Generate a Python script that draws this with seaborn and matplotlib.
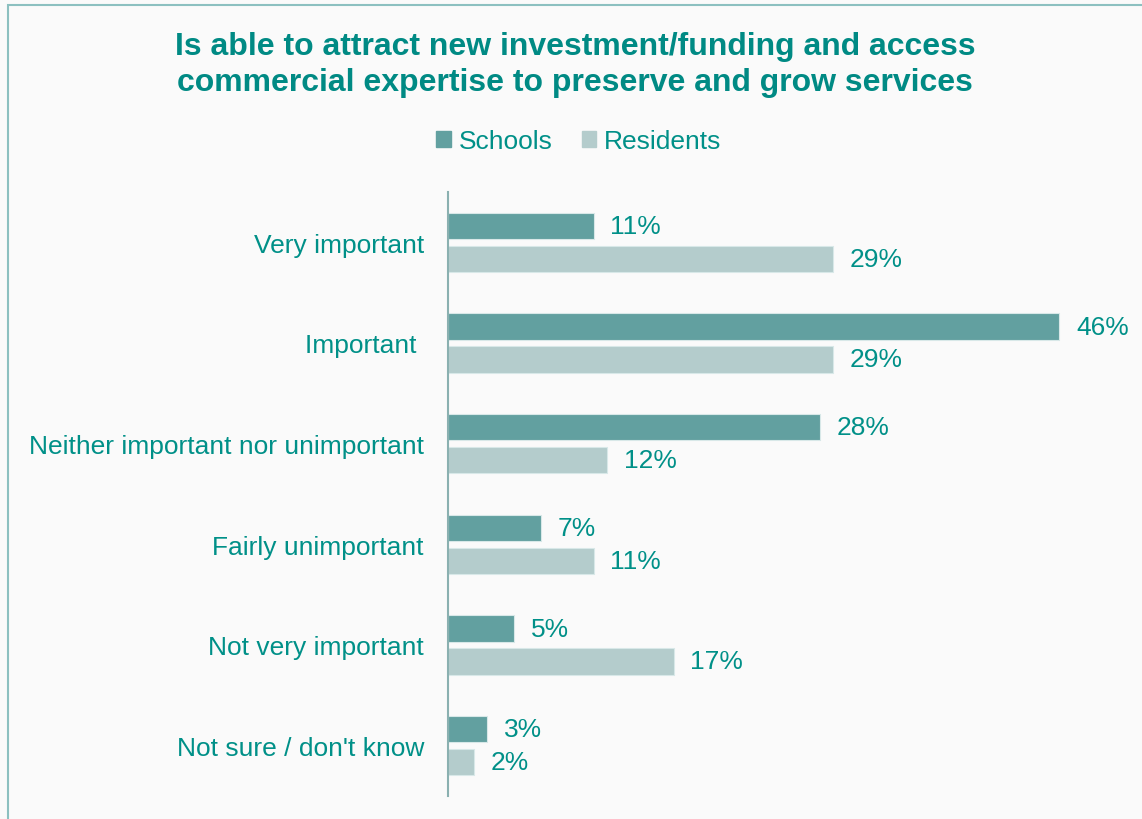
import matplotlib
matplotlib.use("Agg")
import matplotlib.pyplot as plt
import seaborn as sns
import pandas as pd
from matplotlib.patches import Rectangle

categories = ["Very important", "Important ", "Neither important nor unimportant",
              "Fairly unimportant", "Not very important", "Not sure / don't know"]
schools = [11, 46, 28, 7, 5, 3]
residents = [29, 29, 12, 11, 17, 2]
series = ["Schools", "Residents"]
title = "Is able to attract new investment/funding and access\ncommercial expertise to preserve and grow services"

teal_dark = "#62A0A0"
teal_light = "#B4CCCC"
text_col = "#009088"

df = pd.DataFrame({
    "category": categories * 2,
    "value": schools + residents,
    "series": [series[0]] * len(categories) + [series[1]] * len(categories),
})

sns.set_theme(style="white")
plt.rcParams['font.family'] = ['Liberation Sans', 'DejaVu Sans']

W, H = 1142, 820
fig = plt.figure(figsize=(W / 100, H / 100), dpi=100, facecolor="#FAFAFA")
ax = fig.add_axes([447.5 / W, 1 - 797 / H, (W - 447.5) / W, (797 - 193) / H])
ax.set_facecolor("#FAFAFA")

sns.barplot(data=df, y="category", x="value", hue="series", orient="h",
            palette=[teal_dark, teal_light], saturation=1, width=0.655, gap=0.21,
            legend=False, ax=ax, order=categories, hue_order=series,
            edgecolor="#D8E8E8", linewidth=0.8)

for cont in ax.containers:
    ax.bar_label(cont, labels=[f"{int(v)}%" for v in cont.datavalues],
                 padding=12, fontsize=19, color=text_col)

ax.set_xlim(0, (W - 447.5) / 13.3)
ax.set_ylim(5.5, -0.5)
ax.set_xlabel("")
ax.set_ylabel("")
ax.set_xticks([])
ax.tick_params(axis="y", length=0, pad=17, labelsize=19, labelcolor=text_col)
for s in ["top", "right", "bottom"]:
    ax.spines[s].set_visible(False)
ax.spines["left"].set_color("#8AB0B0")
ax.spines["left"].set_linewidth(1.5)

fig.text(575 / W, 1 - 65 / H, title, ha="center", va="center", fontsize=23,
         fontweight="bold", color="#008A84", linespacing=1.22)

handles = [Rectangle((0, 0), 1, 1, color=teal_dark), Rectangle((0, 0), 1, 1, color=teal_light)]
fig.legend(handles, series, loc="center", bbox_to_anchor=(579 / W, 1 - 142 / H), ncol=2,
           frameon=False, fontsize=19, handlelength=0.55, handleheight=0.55,
           handletextpad=0.3, columnspacing=1.1, labelcolor=text_col)

# outer frame
fig.patches.append(Rectangle((8 / W, -0.1), 1.2, 1 - 6 / H + 0.1, transform=fig.transFigure,
                             fill=False, edgecolor="#8CC0C0", linewidth=1.5))

fig.savefig("out.png", dpi=100, facecolor=fig.get_facecolor())
